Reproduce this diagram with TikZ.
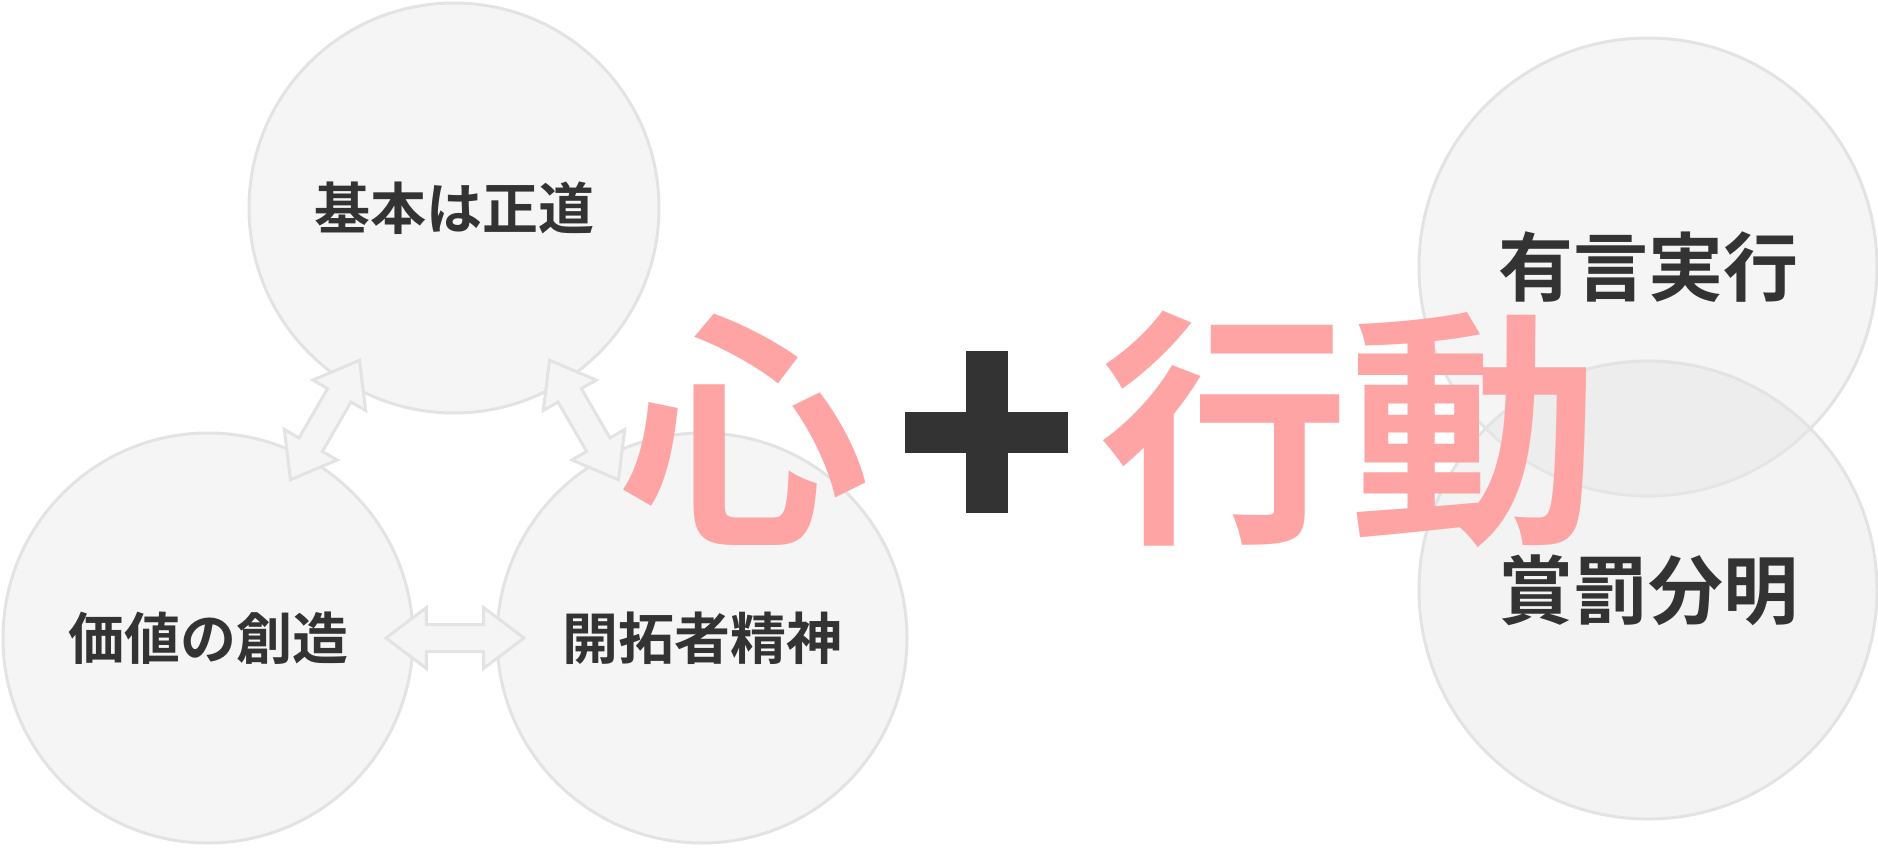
\documentclass[tikz,border=0pt]{standalone}
\usepackage{fontspec}
\usepackage{xcolor}
\usetikzlibrary{shapes.arrows,calc}
\newfontfamily\jpbold{Noto Sans CJK JP Bold}
\definecolor{ringfill}{HTML}{F5F5F5}
\definecolor{shadefill}{HTML}{E7E7E7}
\definecolor{ringgray}{HTML}{E3E3E3}
\definecolor{textgray}{HTML}{333333}
\definecolor{heartpink}{HTML}{FFA4A4}

\begin{document}
\begin{tikzpicture}[x=1pt,y=-1pt,
  ring/.style={circle,draw=ringgray,line width=3pt,fill=ringfill,inner sep=0pt,
    minimum size=410pt,text=textgray,font=\jpbold\fontsize{56}{60}\selectfont},
  bigring/.style={ring,minimum size=458pt,font=\jpbold\fontsize{75}{80}\selectfont},
  link/.style={double arrow,draw=ringgray,line width=3pt,fill=ringfill,
    inner xsep=0pt,inner ysep=12pt,minimum height=138pt,
    double arrow head extend=17pt,double arrow tip angle=74},
  bigword/.style={text=heartpink,inner sep=0pt,font=\jpbold\fontsize{250}{250}\selectfont}]
\useasboundingbox (0,0) rectangle (1878,847);
\begin{scope}
\node[ring] (base) at (454,208) {基本は正道};
\node[ring] (value) at (208,638) {価値の創造};
\node[ring] (pioneer) at (702,638) {開拓者精神};
\node[link,rotate=60] (l1) at ($(value)!0.5!(base)+(-6,-3)$) {};
\node[link,rotate=-60] (l2) at ($(base)!0.5!(pioneer)+(6,-3)$) {};
\node[link] (l3) at ($(value)!0.5!(pioneer)$) {};
\end{scope}
\begin{scope}
\node[bigring] (say) at (1648,267) {有言実行};
\node[bigring,fill=shadefill,fill opacity=0.5,text opacity=1] (reward) at (1648,590) {賞罰分明};
\end{scope}
\node[bigword] (heart) at (744,430) {心};
\fill[textgray] (966,351) rectangle (1008,513);
\fill[textgray] (905,412) rectangle (1068,453);
\node[bigword] (action) at (1349,429) {行動};
\end{tikzpicture}
\end{document}
